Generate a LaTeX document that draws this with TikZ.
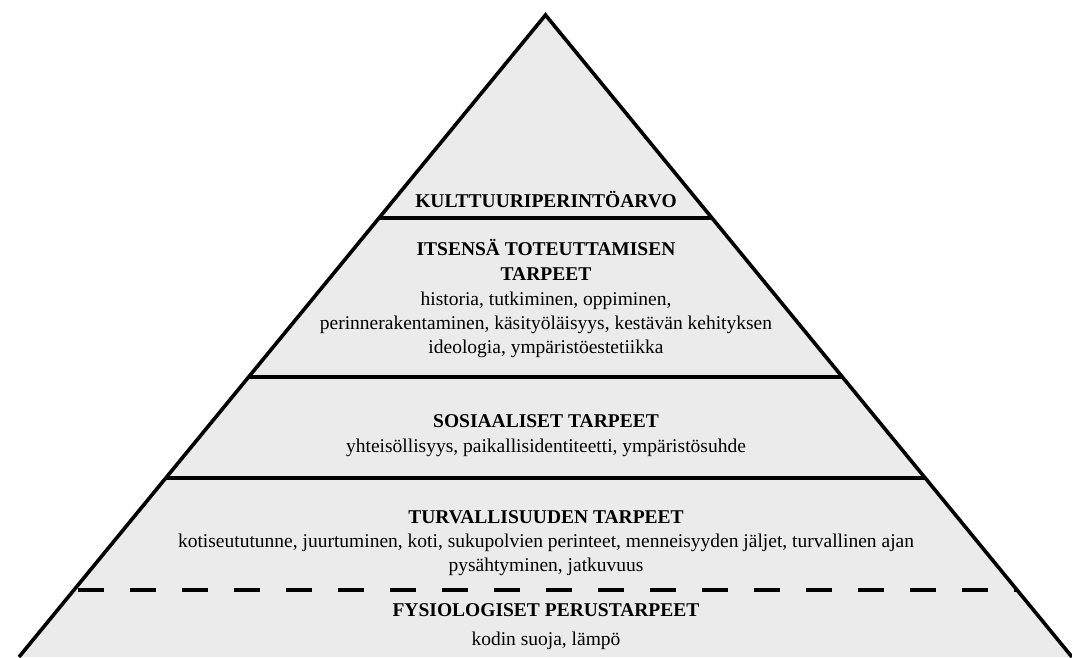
\documentclass[tikz,border=0pt]{standalone}
\usepackage{fontspec}
\setmainfont{Liberation Serif}
\usetikzlibrary{calc}
\definecolor{pyrfill}{HTML}{EBEBEB}
\tikzset{
  edgeline/.style={line width=3.6pt, line join=miter},
  layerline/.style={line width=3.6pt},
  dashline/.style={line width=3.6pt, dash pattern=on 26pt off 26pt, dash phase=48pt},
  head/.style={font=\fontsize{19.5}{24}\selectfont\bfseries, anchor=base, inner sep=0pt},
  body/.style={font=\fontsize{19.5}{24}\selectfont, anchor=base, inner sep=0pt},
}
\begin{document}
\begin{tikzpicture}[x=1pt,y=-1pt]
\useasboundingbox (0,0) rectangle (1072,657);
\coordinate (A) at (545.5,15);
\coordinate (L) at (19,657);
\coordinate (R) at (1072,657);
\fill[pyrfill] (A) -- (L) -- (R) -- cycle;
% layer boundaries
\coordinate (l1) at ($(A)!0.3162!(L)$); \coordinate (r1) at ($(A)!0.3162!(R)$);
\coordinate (l2) at ($(A)!0.5639!(L)$); \coordinate (r2) at ($(A)!0.5639!(R)$);
\coordinate (l3) at ($(A)!0.7212!(L)$); \coordinate (r3) at ($(A)!0.7212!(R)$);
\coordinate (l4) at ($(A)!0.8956!(L)$); \coordinate (r4) at ($(A)!0.8956!(R)$);
\draw[layerline] (l1) -- (r1);
\draw[layerline] (l2) -- (r2);
\draw[layerline] (l3) -- (r3);
\draw[dashline] (l4) -- (r4);
\draw[edgeline] (L) -- (A) -- (R);
% texts
\node[head] (k) at (546,207) {KULTTUURIPERINTÖARVO};
\node[head] (i1) at (546,255) {ITSENSÄ TOTEUTTAMISEN};
\node[head] (i2) at (546,280) {TARPEET};
\node[body] (i3) at (546,305) {historia, tutkiminen, oppiminen,};
\node[body] (i4) at (546,329) {perinnerakentaminen, käsityöläisyys, kestävän kehityksen};
\node[body] (i5) at (546,353) {ideologia, ympäristöestetiikka};
\node[head] (s1) at (546,427) {SOSIAALISET TARPEET};
\node[body] (s2) at (546,452) {yhteisöllisyys, paikallisidentiteetti, ympäristösuhde};
\node[head] (t1) at (546,523) {TURVALLISUUDEN TARPEET};
\node[body] (t2) at (546,547) {kotiseututunne, juurtuminen, koti, sukupolvien perinteet, menneisyyden jäljet, turvallinen ajan};
\node[body] (t3) at (546,571) {pysähtyminen, jatkuvuus};
\node[head] (f1) at (546,616) {FYSIOLOGISET PERUSTARPEET};
\node[body] (f2) at (546,645) {kodin suoja, lämpö};
\end{tikzpicture}
\end{document}
